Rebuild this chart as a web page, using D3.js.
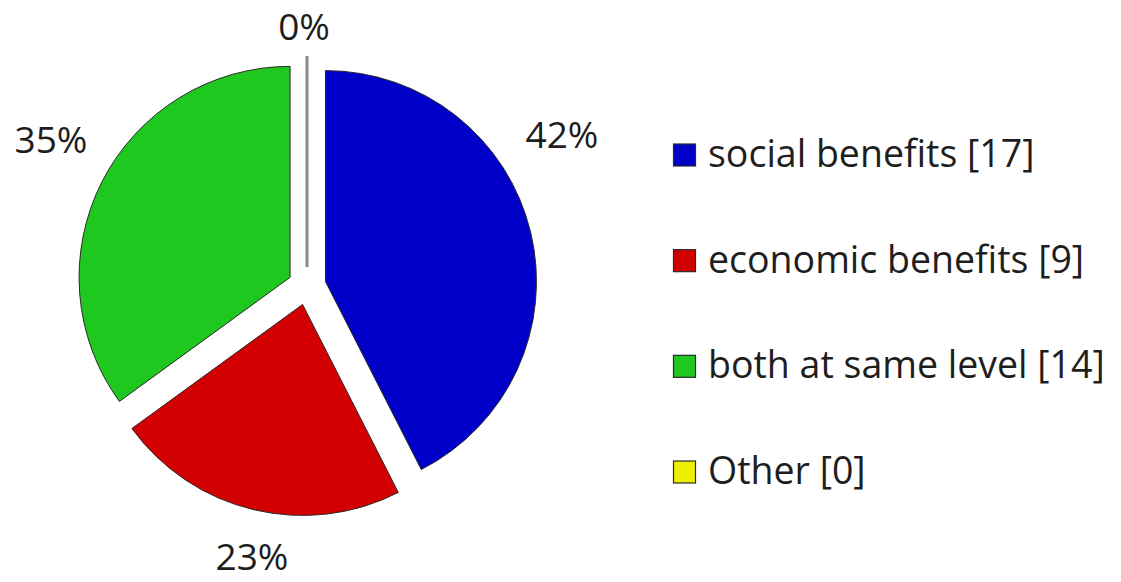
<!DOCTYPE html>
<html>
<head>
<meta charset="utf-8">
<script src="https://cdn.jsdelivr.net/npm/d3@7"></script>
<style>
  html, body { margin: 0; padding: 0; background: #fff; }
  svg { display: block; }
</style>
</head>
<body>
<svg id="chart"></svg>
<script>
/* pie of answers, exploded slices, legend on the right */

const CATEGORIES = ['social benefits', 'economic benefits', 'both at same level', 'Other'];
const COUNTS     = [17, 9, 14, 0];
const PCT_LABELS = ['42%', '23%', '35%', '0%'];
const COLORS     = ['#0000c8', '#d20000', '#1ec81e', '#eeee00'];

const W = 1121, H = 582;
const FONT = '"Open Sans", "Noto Sans", sans-serif';

// label anchors (layout only), in chart px
const LABEL_XY = [[562, 148], [252, 570], [51, 153], [304, 40]];

const cx = 307, cy = 286;
const R = 211;
const EXPLODE = 19;

const svg = d3.select('#chart')
  .attr('width', W)
  .attr('height', H)
  .attr('viewBox', `0 0 ${W} ${H}`);

const data = CATEGORIES.map((c, i) => ({ name: c, value: COUNTS[i], i }));

const pie = d3.pie()
  .sort(null)
  .value(d => d.value);

const arc = d3.arc()
  .innerRadius(0)
  .outerRadius(R);

const arcs = pie(data);

const g = svg.append('g')
  .attr('transform', `translate(${cx},${cy})`);

/* ── slices, pushed out along their mid angle ── */
g.selectAll('.slice')
  .data(arcs)
  .join('path')
  .attr('class', 'slice')
  .attr('d', arc)
  .attr('transform', d => {
    const mid = (d.startAngle + d.endAngle) / 2;
    return `translate(${Math.sin(mid) * EXPLODE},${-Math.cos(mid) * EXPLODE})`;
  })
  .attr('fill', d => COLORS[d.data.i])
  .attr('stroke', d => d.value === 0 ? '#8a8a8a' : '#2a2a2a')
  .attr('stroke-width', d => d.value === 0 ? 3 : 1)
  .attr('stroke-linejoin', 'miter');

/* ── percent labels ── */
svg.selectAll('.pct')
  .data(arcs)
  .join('text')
  .attr('class', 'pct')
  .attr('x', d => LABEL_XY[d.data.i][0])
  .attr('y', d => LABEL_XY[d.data.i][1])
  .attr('text-anchor', 'middle')
  .attr('fill', '#1e1e1e')
  .attr('font-size', 37)
  .attr('font-family', FONT)
  .text(d => PCT_LABELS[d.data.i]);

/* ── legend ── */
const legendY = d3.scalePoint()
  .domain(CATEGORIES)
  .range([155, 472]);

const legend = svg.append('g')
  .selectAll('.legend-item')
  .data(data)
  .join('g')
  .attr('class', 'legend-item')
  .attr('transform', d => `translate(673,${legendY(d.name)})`);

legend.append('rect')
  .attr('x', 0.5)
  .attr('y', -11)
  .attr('width', 22)
  .attr('height', 22)
  .attr('fill', d => COLORS[d.i])
  .attr('stroke', '#2a2a2a')
  .attr('stroke-width', 1.2);

legend.append('text')
  .attr('x', 35)
  .attr('y', 12)
  .attr('fill', '#1e1e1e')
  .attr('font-size', 37.5)
  .attr('font-family', FONT)
  .text(d => `${d.name} [${d.value}]`);
</script>
</body>
</html>
